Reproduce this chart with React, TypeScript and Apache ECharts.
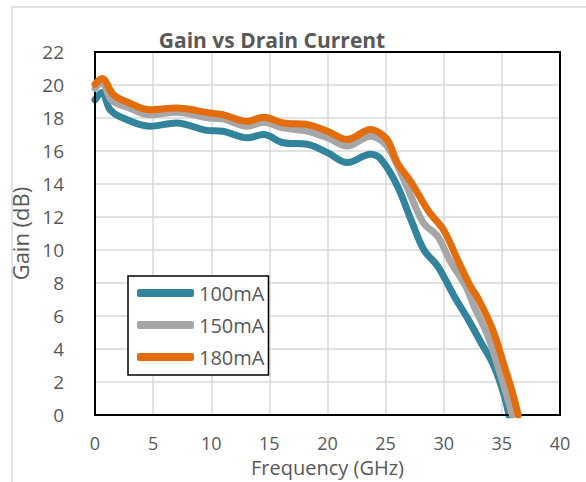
import React, { useEffect, useRef } from "react";
import * as echarts from "echarts";

const title = "Gain vs Drain Current";
const xAxisName = "Frequency (GHz)";
const yAxisName = "Gain (dB)";

const xTicks = { min: 0, max: 40, interval: 5 };
const yTicks = { min: 0, max: 22, interval: 2 };

const seriesNames = ["100mA", "150mA", "180mA"];

const freq100 = [0, 0.6, 1.3, 2.4, 4.7, 7.0, 9.6, 11, 13.1, 14.5, 16.2, 18.3, 20, 21.7, 23.7, 24.6, 26, 27.2, 28.3, 29.5, 30.9, 32.1, 33.2, 34.3, 35.2, 35.6];
const gain100 = [19.1, 19.55, 18.5, 18.0, 17.5, 17.7, 17.25, 17.2, 16.8, 17.0, 16.5, 16.4, 15.9, 15.3, 15.8, 15.5, 13.9, 11.8, 10.0, 9.0, 7.2, 5.8, 4.4, 3.0, 1.2, 0];

const freq150 = [0, 0.6, 1.4, 3, 4.7, 7, 9.8, 11, 13.1, 14.5, 16.2, 18.3, 20, 21.7, 23.7, 24.7, 25.4, 26.8, 28.2, 29.5, 30.5, 31.9, 32.6, 33.8, 34.9, 35.9];
const gain150 = [19.8, 20.15, 19.1, 18.6, 18.2, 18.35, 18.0, 17.95, 17.5, 17.75, 17.4, 17.2, 16.8, 16.3, 16.9, 16.6, 16.0, 13.9, 11.7, 10.8, 9.4, 7.8, 6.6, 4.8, 2.4, 0];

const freq180 = [0, 0.6, 1.6, 3, 4.7, 7, 9.9, 11, 13.1, 14.5, 16.2, 18.3, 20, 21.7, 23.7, 24.7, 25.3, 26, 27.2, 28.7, 30, 31.2, 32.3, 33, 34.2, 35.2, 35.9, 36.4];
const gain180 = [20.05, 20.4, 19.4, 18.9, 18.5, 18.6, 18.3, 18.2, 17.8, 18.05, 17.7, 17.6, 17.2, 16.7, 17.3, 17.0, 16.5, 15.3, 14.1, 12.35, 11.2, 9.4, 7.8, 7.0, 5.2, 3.0, 1.4, 0];

const colors = ["#31849B", "#A6A6A6", "#E46C0A"];

const FONT = "'Open Sans', 'Noto Sans', sans-serif";
const TEXT = "#595959";

function pairs(xs: number[], ys: number[]) {
  return xs.map((x, i) => [x, ys[i]]);
}

export default function App() {
  const ref = useRef<HTMLDivElement>(null);
  useEffect(() => {
    if (!ref.current) return;
    const chart = echarts.init(ref.current, null, { renderer: "svg" });
    const data = [pairs(freq100, gain100), pairs(freq150, gain150), pairs(freq180, gain180)];
    chart.setOption({
      animation: false,
      backgroundColor: "#fff",
      textStyle: { fontFamily: FONT },
      title: {
        text: title,
        left: 267,
        top: 24,
        textAlign: "center",
        textStyle: { fontFamily: FONT, fontSize: 21, fontWeight: "bold", color: TEXT },
      },
      graphic: [
        {
          type: "rect",
          shape: { x: 12, y: 7, width: 640, height: 540 },
          style: { fill: "none", stroke: "#D9D9D9", lineWidth: 1.5 },
          silent: true,
          z: -1,
        },
      ],
      grid: {
        left: 95,
        right: 26,
        top: 52,
        bottom: 66,
        show: true,
        borderColor: "#000",
        borderWidth: 2,
        z: 3,
      },
      legend: {
        orient: "vertical",
        left: 128,
        top: 276,
        data: seriesNames,
        icon: "roundRect",
        itemWidth: 57,
        itemHeight: 8,
        itemGap: 12,
        itemTextGap: 4,
        padding: [7, 4, 8, 9],
        borderColor: "#000",
        borderWidth: 1.5,
        backgroundColor: "#fff",
        textStyle: { fontFamily: FONT, fontSize: 20, color: TEXT },
        z: 10,
      },
      xAxis: {
        type: "value",
        min: xTicks.min,
        max: xTicks.max,
        interval: xTicks.interval,
        name: xAxisName,
        nameLocation: "middle",
        nameGap: 41,
        nameTextStyle: { fontFamily: FONT, fontSize: 20, color: TEXT },
        axisLine: { show: false },
        axisTick: { show: false },
        axisLabel: { margin: 19, fontFamily: FONT, fontSize: 18, color: TEXT },
        splitLine: { show: true, lineStyle: { color: "#D9D9D9", width: 1.5 } },
      },
      yAxis: {
        type: "value",
        min: yTicks.min,
        max: yTicks.max,
        interval: yTicks.interval,
        name: yAxisName,
        nameLocation: "middle",
        nameGap: 47,
        nameTextStyle: { fontFamily: FONT, fontSize: 22, color: TEXT },
        axisLine: { show: false },
        axisTick: { show: false },
        axisLabel: { margin: 31, fontFamily: FONT, fontSize: 19, color: TEXT },
        splitLine: { show: true, lineStyle: { color: "#D9D9D9", width: 1.5 } },
      },
      series: seriesNames.map((name, i) => ({
        name,
        type: "line",
        data: data[i],
        smooth: 0.35,
        symbol: "none",
        clip: true,
        color: colors[i],
        lineStyle: { color: colors[i], width: 7, cap: "round", join: "round" },
        itemStyle: { color: colors[i] },
        z: 2 + i,
      })),
    });
    return () => chart.dispose();
  }, []);
  return (
    <div
      ref={ref}
      style={{ position: "absolute", left: 0, top: 0, width: 586, height: 482 }}
    />
  );
}
